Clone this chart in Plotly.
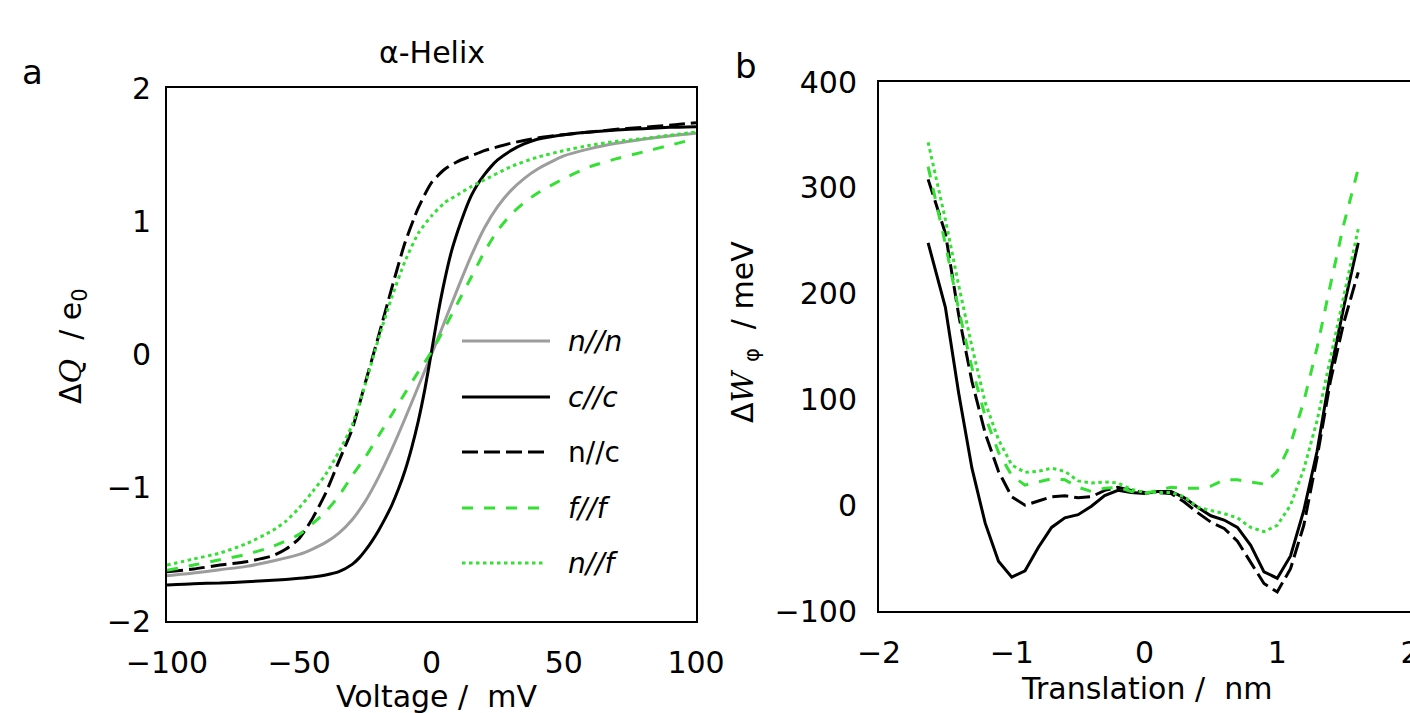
import plotly.graph_objects as go

W, H = 1410, 713

# ---------------- Panel a data: Voltage (mV) vs ΔQ (e0) ----------------
v_nn = [-100, -90, -80, -70, -60, -50, -45, -40, -35, -30, -25, -20, -15, -10, -5, 0, 5, 10, 15, 20, 25, 30, 35, 40, 50, 60, 70, 80, 90, 100]
q_nn = [-1.66, -1.64, -1.615, -1.59, -1.55, -1.50, -1.46, -1.41, -1.34, -1.24, -1.10, -0.92, -0.71, -0.48, -0.24, 0.0, 0.25, 0.50, 0.74, 0.95, 1.11, 1.23, 1.32, 1.39, 1.49, 1.545, 1.585, 1.615, 1.64, 1.66]

v_cc = [-100, -90, -80, -70, -60, -50, -45, -40, -35, -30, -27.5, -25, -22.5, -20, -17.5, -15, -12.5, -10, -7.5, -5, -2.5,
        0, 2.5, 5, 7.5, 10, 12.5, 15, 17.5, 20, 22.5, 25, 30, 35, 40, 50, 60, 70, 80, 90, 100]
q_cc = [-1.73, -1.72, -1.715, -1.705, -1.695, -1.68, -1.67, -1.655, -1.63, -1.575, -1.53, -1.47, -1.40, -1.32, -1.23, -1.13, -1.01, -0.87, -0.70, -0.50, -0.26,
        0.02, 0.31, 0.56, 0.77, 0.93, 1.07, 1.19, 1.28, 1.35, 1.41, 1.46, 1.53, 1.58, 1.615, 1.65, 1.67, 1.685, 1.695, 1.705, 1.71]

v_nc = [-100, -90, -80, -70, -60, -55, -50, -45, -40, -35, -30, -25, -20, -15, -10, -5, 0, 5, 10, 15, 20, 30, 40, 50, 60, 70, 80, 90, 100]
q_nc = [-1.63, -1.61, -1.58, -1.555, -1.51, -1.46, -1.38, -1.23, -1.04, -0.80, -0.56, -0.21, 0.14, 0.50, 0.84, 1.10, 1.29, 1.39, 1.45, 1.49, 1.53, 1.585, 1.625, 1.65, 1.67, 1.69, 1.705, 1.72, 1.74]

v_ff = [-100, -90, -80, -70, -60, -50, -45, -40, -35, -30, -25, -20, -15, -10, -5, 0, 5, 10, 15, 20, 25, 30, 35, 40, 50, 60, 70, 80, 90, 100]
q_ff = [-1.62, -1.58, -1.54, -1.50, -1.44, -1.35, -1.27, -1.18, -1.06, -0.91, -0.77, -0.61, -0.45, -0.29, -0.13, 0.02, 0.20, 0.39, 0.58, 0.77, 0.93, 1.05, 1.14, 1.21, 1.32, 1.41, 1.47, 1.52, 1.57, 1.62]

v_nf = [-100, -90, -80, -70, -60, -55, -50, -45, -40, -35, -30, -25, -20, -15, -10, -5, 0, 5, 10, 15, 20, 30, 40, 50, 60, 70, 80, 90, 100]
q_nf = [-1.58, -1.535, -1.49, -1.42, -1.32, -1.25, -1.15, -1.03, -0.90, -0.73, -0.53, -0.22, 0.12, 0.43, 0.70, 0.91, 1.04, 1.14, 1.20, 1.26, 1.31, 1.41, 1.48, 1.53, 1.57, 1.60, 1.62, 1.645, 1.67]

# ---------------- Panel b data: Translation (nm) vs ΔWφ (meV) ----------------
t_grid = [-1.63, -1.5, -1.4, -1.3, -1.2, -1.1, -1.0, -0.9, -0.8, -0.7, -0.6, -0.5, -0.4, -0.3, -0.2, -0.1,
          0.0, 0.1, 0.2, 0.3, 0.4, 0.5, 0.6, 0.7, 0.8, 0.9, 1.0, 1.1, 1.2, 1.3, 1.4, 1.5, 1.61]
w_cc = [248, 187, 106, 35, -17, -53, -68, -62, -40, -21, -12, -9, -1, 9, 14, 12,
        11, 13, 13, 7, -2, -10, -14, -21, -38, -63, -69, -48, -5, 51, 125, 187, 248]
w_nc = [308, 257, 180, 117, 68, 32, 8, 0, 4, 8, 9, 7, 8, 14, 17, 14,
        12, 12, 11, 3, -7, -16, -22, -34, -54, -74, -82, -60, -19, 45, 117, 172, 220]
w_ff = [320, 247, 185, 130, 84, 50, 28, 19, 22, 25, 24, 17, 13, 16, 17, 13,
        11, 14, 17, 16, 16, 18, 24, 24, 22, 20, 32, 58, 98, 149, 208, 265, 318]
w_nf = [343, 270, 208, 150, 97, 62, 38, 31, 32, 35, 32, 23, 21, 22, 21, 15,
        12, 12, 12, 8, -2, -5, -8, -12, -21, -25, -19, 0, 34, 80, 137, 197, 261]

# ---------------- Tick labels ----------------
a_xticks = [-100, -50, 0, 50, 100]
a_yticks = [-2, -1, 0, 1, 2]
b_xticks = [-2, -1, 0, 1, 2]
b_yticks = [-100, 0, 100, 200, 300, 400]

legend_labels = ["<i>n//n</i>", "<i>c//c</i>", "n//c", "<i>f//f</i>", "<i>n//f</i>"]

GREEN = "#33e033"
GRAY = "#9d9d9d"
BLACK = "#000000"
LW = 3
DASH_K = "16px,6px"
DASH_G = "11px,11px"
DOT_G = "3.5px,3.5px"

FONT = "DejaVu Sans"
FS = 30


def px2x(px):
    return px / W


def px2y(py):
    return 1 - py / H


def minus(vals):
    return [str(v).replace("-", "\u2212") for v in vals]


fig = go.Figure()

styles = [
    (GRAY, "solid"),
    (BLACK, "solid"),
    (BLACK, DASH_K),
    (GREEN, DASH_G),
    (GREEN, DOT_G),
]

a_series = [(v_nn, q_nn), (v_cc, q_cc), (v_nc, q_nc), (v_ff, q_ff), (v_nf, q_nf)]
for (xs, ys), (col, dash) in zip(a_series, styles):
    fig.add_trace(go.Scatter(x=xs, y=ys, mode="lines", xaxis="x", yaxis="y",
                             line=dict(color=col, width=LW, dash=dash, shape="spline", smoothing=0.6),
                             showlegend=False, hoverinfo="skip"))

b_series = [(t_grid, w_cc, styles[1]), (t_grid, w_nc, styles[2]), (t_grid, w_ff, styles[3]), (t_grid, w_nf, styles[4])]
for xs, ys, (col, dash) in b_series:
    fig.add_trace(go.Scatter(x=xs, y=ys, mode="lines", xaxis="x2", yaxis="y2",
                             line=dict(color=col, width=LW, dash=dash),
                             showlegend=False, hoverinfo="skip"))

axis_common = dict(showgrid=False, zeroline=False, showline=True, linecolor="black", linewidth=2,
                   mirror=True, ticks="outside", tickcolor="rgba(0,0,0,0)",
                   tickfont=dict(family=FONT, size=FS, color="black"), automargin=False,
                   ticklabeloverflow="allow")

fig.update_layout(
    width=W, height=H,
    margin=dict(l=0, r=0, t=0, b=0),
    paper_bgcolor="white", plot_bgcolor="white",
    xaxis=dict(domain=[px2x(167), px2x(696)], range=[-100, 100], tickvals=a_xticks,
               ticktext=minus(a_xticks), ticklen=14, anchor="y", **axis_common),
    yaxis=dict(domain=[px2y(621), px2y(88)], range=[-2, 2], tickvals=a_yticks,
               ticktext=minus(a_yticks), ticklen=8, anchor="x", **axis_common),
    xaxis2=dict(domain=[px2x(879), 1.0], range=[-2, 2], tickvals=b_xticks,
                ticktext=minus(b_xticks), ticklen=14, anchor="y2", **axis_common),
    yaxis2=dict(domain=[px2y(611), px2y(82)], range=[-100, 400], tickvals=b_yticks,
                ticktext=minus(b_yticks), ticklen=14, anchor="x2", **axis_common),
)

# Manual legend inside panel a
leg_y = [341, 397, 452, 508, 563]
shapes = []
annotations = []
for (col, dash), ly, lab in zip(styles, leg_y, legend_labels):
    x1 = 550 if dash == "solid" else 545
    shapes.append(dict(type="line", xref="paper", yref="paper", x0=px2x(462), x1=px2x(x1),
                       y0=px2y(ly), y1=px2y(ly), line=dict(color=col, width=LW, dash=dash)))
    annotations.append(dict(text=lab, xref="paper", yref="paper", x=px2x(566), y=px2y(ly),
                            xanchor="left", yanchor="middle", showarrow=False,
                            font=dict(family=FONT, size=28, color="black")))

annotations += [
    dict(text="\u03b1-Helix", xref="paper", yref="paper", x=px2x(432), y=px2y(52), xanchor="center",
         yanchor="middle", showarrow=False, font=dict(family=FONT, size=FS, color="black")),
    dict(text="a", xref="paper", yref="paper", x=px2x(32), y=px2y(72), xanchor="center",
         yanchor="middle", showarrow=False, font=dict(family=FONT, size=34, color="black")),
    dict(text="b", xref="paper", yref="paper", x=px2x(746), y=px2y(66), xanchor="center",
         yanchor="middle", showarrow=False, font=dict(family=FONT, size=34, color="black")),
    dict(text="Voltage /  mV", xref="paper", yref="paper", x=px2x(436), y=px2y(696), xanchor="center",
         yanchor="middle", showarrow=False, font=dict(family=FONT, size=FS, color="black")),
    dict(text="Translation /  nm", xref="paper", yref="paper", x=px2x(1146), y=px2y(688), xanchor="center",
         yanchor="middle", showarrow=False, font=dict(family=FONT, size=FS, color="black")),
    dict(text="\u0394<span style='font-family:DejaVu Serif'><i>Q</i></span>  / e<sub>0</sub>",
         xref="paper", yref="paper", x=px2x(72), y=px2y(346), xanchor="center", yanchor="middle",
         textangle=-90, showarrow=False, font=dict(family=FONT, size=FS, color="black")),
    dict(text="\u0394<span style='font-family:DejaVu Serif'><i>W</i></span> <sub>\u03c6</sub>  / meV",
         xref="paper", yref="paper", x=px2x(744), y=px2y(332), xanchor="center", yanchor="middle",
         textangle=-90, showarrow=False, font=dict(family=FONT, size=FS, color="black")),
]

fig.update_layout(shapes=shapes, annotations=annotations)

fig.write_html("out.html", config={"displayModeBar": False},
               post_script="document.body.style.margin='0px';document.body.style.overflow='hidden';")
